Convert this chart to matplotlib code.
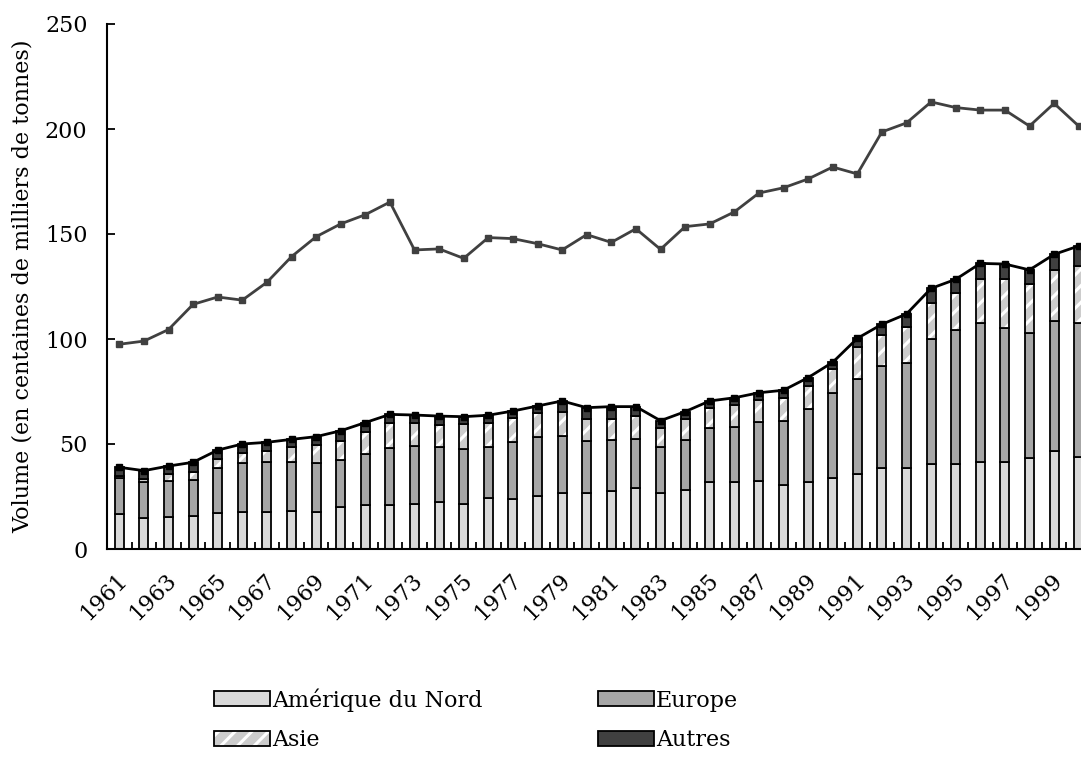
import numpy as np
import matplotlib
matplotlib.use("Agg")
import matplotlib.pyplot as plt
import matplotlib.transforms as mtransforms
from matplotlib.patches import Patch

years = list(range(1961, 2001))

# volumes in hundreds of thousands of tonnes
amerique_nord = [16.7, 14.6, 15.4, 15.9, 17.0, 17.8, 17.8, 18.3, 17.8, 20.2,
                 20.8, 21.0, 21.3, 22.2, 21.4, 24.1, 23.8, 25.2, 26.5, 26.5,
                 27.6, 29.2, 26.8, 28.1, 32.0, 32.0, 32.4, 30.5, 32.0, 34.0,
                 35.6, 38.7, 38.7, 40.5, 40.3, 41.6, 41.6, 43.2, 46.8, 44.0]
europe = [17.0, 17.4, 17.1, 17.0, 21.7, 23.0, 23.8, 23.3, 23.3, 22.2,
          24.4, 27.3, 27.7, 26.5, 26.1, 24.6, 27.3, 28.3, 27.3, 25.1,
          24.3, 23.3, 21.9, 23.8, 25.5, 26.0, 28.2, 30.6, 34.7, 40.1,
          45.4, 48.6, 49.7, 59.3, 64.0, 65.9, 63.5, 59.8, 61.9, 63.5]
asie = [1.2, 1.2, 3.1, 3.9, 4.2, 5.1, 5.2, 7.1, 8.4, 9.0,
        10.7, 11.9, 10.8, 10.3, 11.9, 11.1, 11.1, 11.4, 11.4, 10.1,
        10.0, 10.8, 8.8, 10.0, 9.8, 10.6, 10.4, 10.6, 10.9, 11.5,
        15.3, 14.6, 17.5, 17.5, 17.7, 20.9, 23.3, 23.0, 24.2, 27.3]
autres = [4.0, 4.1, 3.9, 4.5, 4.2, 4.1, 4.0, 3.5, 4.0, 4.9,
          4.3, 3.9, 4.0, 4.3, 3.6, 3.9, 3.5, 3.2, 5.3, 5.6,
          5.9, 4.5, 3.6, 3.5, 3.2, 3.4, 3.4, 3.9, 4.0, 3.3,
          4.0, 5.1, 6.0, 6.8, 6.4, 7.6, 7.3, 6.9, 7.4, 9.5]
serie_haute = [97.5, 99.0, 104.5, 116.5, 120.0, 118.5, 127.0, 139.2, 148.7, 154.8,
               159.2, 165.2, 142.4, 142.9, 138.4, 148.3, 147.8, 145.4, 142.4, 149.7,
               146.0, 152.5, 142.7, 153.5, 154.8, 160.5, 169.5, 172.0, 176.2, 181.9,
               178.6, 198.6, 202.9, 212.9, 210.2, 209.0, 209.0, 201.4, 212.2, 201.4]

plt.rcParams['font.family'] = ['DejaVu Serif']
plt.rcParams['hatch.linewidth'] = 2.2

W, H = 1081, 774
fig = plt.figure(figsize=(W / 100, H / 100), dpi=100)
ax = fig.add_axes([107 / W, (H - 549) / H, 984 / W, 525 / H])

x = np.arange(len(years))
na = np.array(amerique_nord)
eu = np.array(europe)
asi = np.array(asie)
aut = np.array(autres)
total = na + eu + asi + aut

bw = 0.36
ec = 'black'
lw = 1.3
asie_fond = '#cccccc'
ax.bar(x, na, bw, color='#d9d9d9', edgecolor=ec, linewidth=lw, zorder=2)
ax.bar(x, eu, bw, bottom=na, color='#a6a6a6', edgecolor=ec, linewidth=lw, zorder=2)
ax.bar(x, asi, bw, bottom=na + eu, color=asie_fond, edgecolor='white', hatch='//',
       linewidth=0, zorder=2)
ax.bar(x, asi, bw, bottom=na + eu, color='none', edgecolor=ec, linewidth=lw, zorder=2)
ax.bar(x, aut, bw, bottom=na + eu + asi, color='#404040', edgecolor=ec, linewidth=lw, zorder=2)

ax.plot(x, total, color='black', linewidth=2.0, marker='s', markersize=5, zorder=3)
ax.plot(x, serie_haute, color='#404040', linewidth=2.0, marker='s', markersize=4.5, zorder=3)

ax.set_xlim(-0.5, len(years) - 0.5)
ax.set_ylim(0, 250)
ax.set_yticks(np.arange(0, 251, 50))
ax.tick_params(axis='y', direction='in', length=6, width=1.3, labelsize=16, pad=14)

ax.set_xticks(x[::2])
ax.set_xticklabels([str(y) for y in years[::2]], rotation=45, ha='right',
                   va='center', rotation_mode='anchor', fontsize=16)
ax.set_xticks(np.arange(-0.5, len(years), 1), minor=True)
ax.tick_params(axis='x', which='major', length=0, pad=20)
ax.tick_params(axis='x', which='minor', direction='in', length=5, width=1.3)
offset = mtransforms.ScaledTranslation(5 / 100, 0, fig.dpi_scale_trans)
for lab in ax.get_xticklabels():
    lab.set_transform(lab.get_transform() + offset)

for s in ['top', 'right']:
    ax.spines[s].set_visible(False)
for s in ['left', 'bottom']:
    ax.spines[s].set_linewidth(1.5)

ax.set_ylabel('Volume (en centaines de milliers de tonnes)', fontsize=16, labelpad=8)

h_na = Patch(facecolor='#d9d9d9', edgecolor=ec, linewidth=lw)
h_eu = Patch(facecolor='#a6a6a6', edgecolor=ec, linewidth=lw)
h_as = (Patch(facecolor=asie_fond, edgecolor='white', hatch='//', linewidth=0),
        Patch(facecolor='none', edgecolor=ec, linewidth=lw))
h_au = Patch(facecolor='#404040', edgecolor=ec, linewidth=lw)
fig.legend([h_na, h_as, h_eu, h_au], ['Amérique du Nord', 'Asie', 'Europe', 'Autres'],
           ncol=2, loc='upper left', bbox_to_anchor=(203 / W, 1 - 677 / H),
           frameon=False, fontsize=16, handlelength=2.5, handleheight=0.65,
           handletextpad=0.1, columnspacing=5.2, labelspacing=0.8, borderpad=0)

fig.savefig('out.png', dpi=100)
